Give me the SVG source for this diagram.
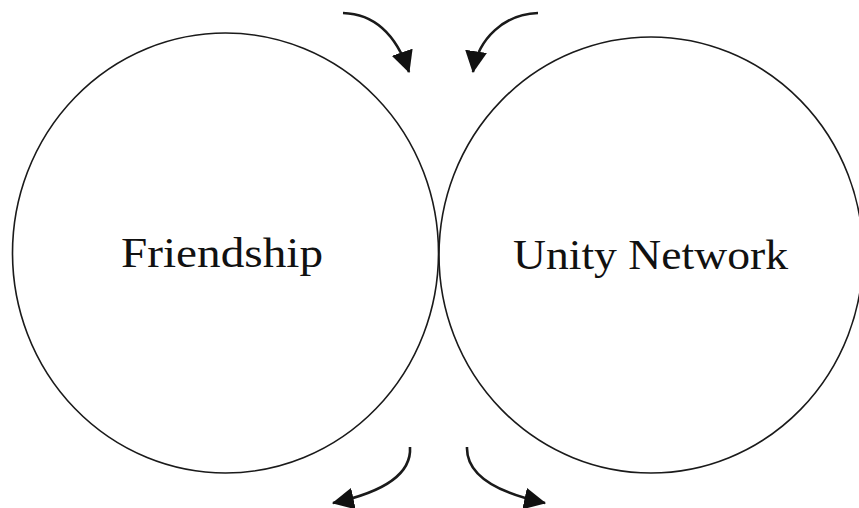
<svg xmlns="http://www.w3.org/2000/svg" width="859" height="508" viewBox="0 0 859 508">
<style>
.node{fill:none;stroke:#1a1a1a;stroke-width:1.6}
.lbl{font-family:"Liberation Serif","DejaVu Serif",serif;font-size:42px;fill:#111}
.arr{fill:none;stroke:#1a1a1a;stroke-width:2.6;marker-end:url(#ah)}
</style>
<defs>
<marker id="ah" markerUnits="userSpaceOnUse" markerWidth="22" markerHeight="22" viewBox="0 0 20 20" refX="19" refY="10" orient="auto">
<path d="M0,0 L20,10 L0,20 Z" fill="#111"/>
</marker>
</defs>
<rect width="859" height="508" fill="#fff"/>
<g id="friendship">
<ellipse class="node" cx="225.5" cy="253" rx="213" ry="220"/>
<text class="lbl" x="121" y="267" textLength="202" lengthAdjust="spacingAndGlyphs">Friendship</text>
</g>
<g id="unity-network">
<ellipse class="node" cx="651" cy="255" rx="212" ry="218"/>
<text class="lbl" x="513" y="269" textLength="275" lengthAdjust="spacingAndGlyphs">Unity Network</text>
</g>
<g id="connectors">
<path class="arr" d="M343,13 C378,14 398,40 409,72"/>
<path class="arr" d="M538,13 C505,14 478,38 473,72"/>
<path class="arr" d="M410,447 C412,478 375,494 333,503"/>
<path class="arr" d="M467,447 C466,478 503,494 545,503"/>
</g>
</svg>
